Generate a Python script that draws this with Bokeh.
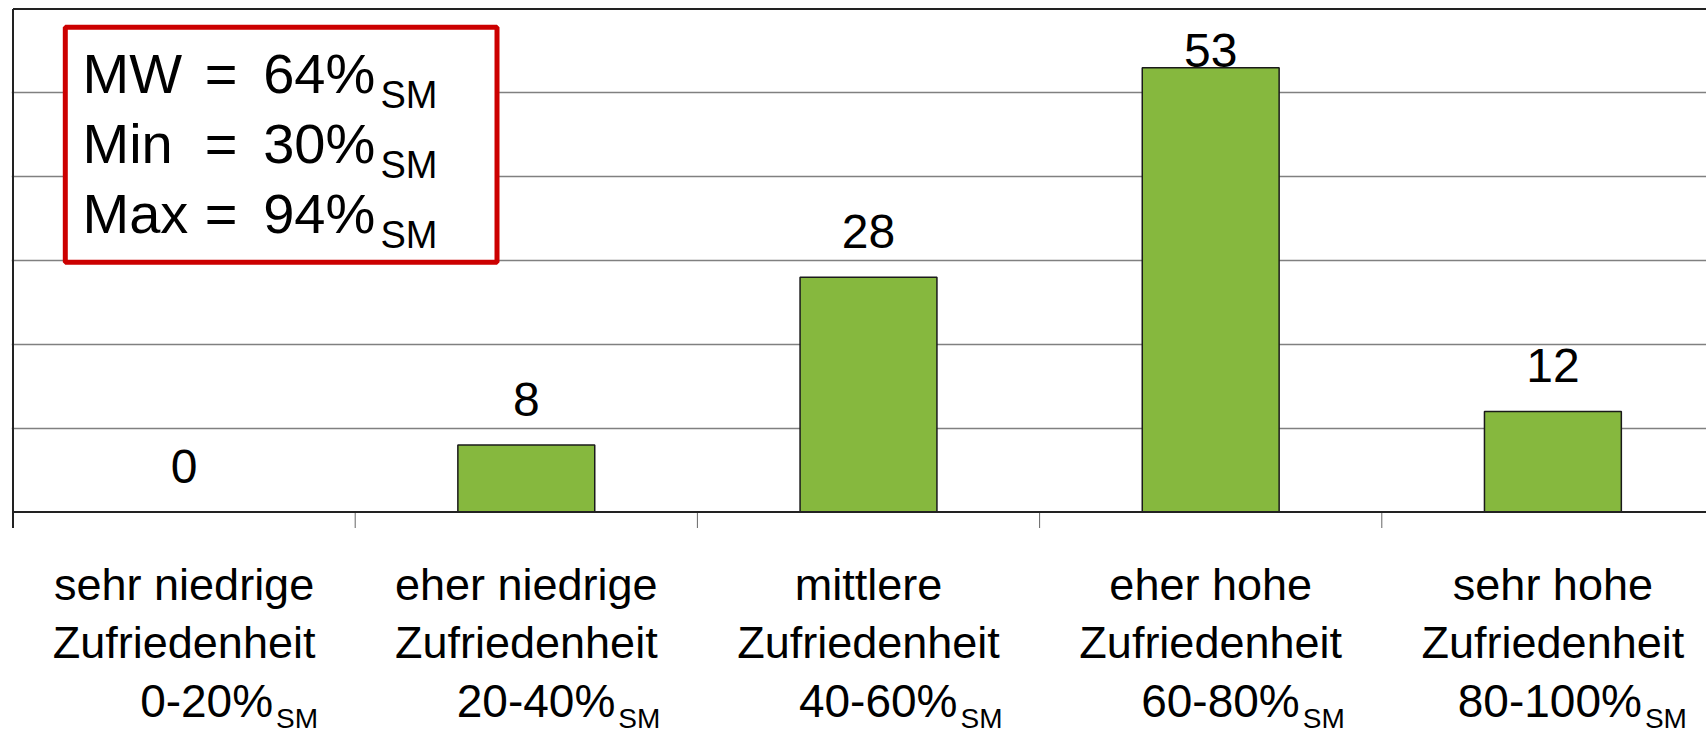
import numpy as np
from bokeh.plotting import figure
from bokeh.models import Grid, FixedTicker, Range1d, ColumnDataSource
from bokeh.core.properties import value
from bokeh.embed import file_html
from bokeh.resources import INLINE

# ---------------- data ----------------
cat_line1 = ["sehr niedrige", "eher niedrige", "mittlere", "eher hohe", "sehr hohe"]
cat_line2 = ["Zufriedenheit", "Zufriedenheit", "Zufriedenheit", "Zufriedenheit", "Zufriedenheit"]
cat_ranges = ["0-20%", "20-40%", "40-60%", "60-80%", "80-100%"]
sub_text = "SM"
counts = [0, 8, 28, 53, 12]
y_ticks = [10, 20, 30, 40, 50]
y_max = 60
stat_names = ["MW", "Min", "Max"]
stat_values = [64, 30, 94]

# ---------------- layout constants ----------------
FONT = value("Liberation Sans")
W, H = 1706, 739
PX_X = 342.2      # px per category
PX_Y = 8.3833     # px per count unit
X0_PX = 12.5      # page x of category axis origin
Y0_PX = 511.5     # page y of value 0
LEFT = 11
x_start = (LEFT - X0_PX) / PX_X
x_end = x_start + (W - LEFT) / PX_X
y_end = Y0_PX / PX_Y
y_start = y_end - H / PX_Y


def ypx(py, fs=0.0):
    """data y for a desired page baseline py (text glyph correction for font size fs)"""
    return (Y0_PX - (py - 0.365 * fs)) / PX_Y


def xpx(px):
    return (px - X0_PX) / PX_X


n = len(counts)
xc = np.arange(n) + 0.5
vals = np.array(counts, dtype=float)

p = figure(width=W, height=H, output_backend="svg", toolbar_location=None,
           x_axis_type=None, y_axis_type=None,
           x_range=Range1d(x_start, x_end), y_range=Range1d(y_start, y_end),
           min_border_left=LEFT, min_border_right=0, min_border_top=0, min_border_bottom=0)
p.outline_line_color = None
p.background_fill_color = "white"
p.border_fill_color = "white"

# grid lines
grid = Grid(dimension=1, ticker=FixedTicker(ticks=y_ticks),
            grid_line_color="#808080", grid_line_width=1.5)
p.add_layout(grid)

# borders, axis line, ticks
tick_len = 16 / PX_Y
p.segment(x0=[0], y0=[y_max], x1=[n], y1=[y_max], line_color="#222222", line_width=2)
p.segment(x0=[0], y0=[y_max], x1=[0], y1=[-tick_len], line_color="#222222", line_width=2)
p.segment(x0=list(range(1, n + 1)), y0=[0] * n, x1=list(range(1, n + 1)), y1=[-tick_len] * n,
          line_color="#666666", line_width=1)

# bars
src = ColumnDataSource(dict(x=xc, top=vals))
p.vbar(x="x", top="top", bottom=0, width=0.40, source=src,
       fill_color="#86B83E", line_color="#1a1a1a", line_width=1.5)

p.segment(x0=[0], y0=[0], x1=[n], y1=[0], line_color="#222222", line_width=2)

# value labels (baseline ~28px above bar top, kept inside the frame)
corr48 = 0.365 * 48 / PX_Y
lab_y = np.minimum(vals + 3.35 + corr48, ypx(67.5, 48))
p.text(x=xc, y=lab_y, text=[str(c) for c in counts], text_font=FONT,
       text_font_size="48px", text_align="center", text_baseline="alphabetic",
       text_color="black")

# category labels
p.text(x=xc, y=[ypx(600.7, 45)] * n, text=cat_line1, text_font=FONT, text_font_size="45px",
       text_align="center", text_baseline="alphabetic", text_color="black")
p.text(x=xc, y=[ypx(658.3, 45)] * n, text=cat_line2, text_font=FONT, text_font_size="45px",
       text_align="center", text_baseline="alphabetic", text_color="black")
right_edge = xc + 134 / PX_X
p.text(x=right_edge - 45 / PX_X, y=[ypx(717, 46)] * n, text=cat_ranges, text_font=FONT,
       text_font_size="46px", text_align="right", text_baseline="alphabetic", text_color="black")
p.text(x=right_edge, y=[ypx(728, 28)] * n, text=[sub_text] * n, text_font=FONT,
       text_font_size="28px", text_align="right", text_baseline="alphabetic", text_color="black")

# statistics box
p.quad(left=[xpx(64.8)], right=[xpx(496.5)], top=[ypx(26.8)], bottom=[ypx(261.8)],
       fill_color="white", line_color="#CC0000", line_width=5)
base_px = [93, 163, 233]
p.text(x=[xpx(82)] * 3, y=[ypx(b, 56) for b in base_px], text=stat_names, text_font=FONT,
       text_font_size="56px", text_align="left", text_baseline="alphabetic", text_color="black")
p.text(x=[xpx(204.3)] * 3, y=[ypx(b, 56) for b in base_px], text=["="] * 3, text_font=FONT,
       text_font_size="56px", text_align="left", text_baseline="alphabetic", text_color="black")
p.text(x=[xpx(262.7)] * 3, y=[ypx(b, 56) for b in base_px], text=[f"{v}%" for v in stat_values],
       text_font=FONT, text_font_size="56px", text_align="left", text_baseline="alphabetic",
       text_color="black")
p.text(x=[xpx(380)] * 3, y=[ypx(b + 15, 38) for b in base_px], text=[sub_text] * 3, text_font=FONT,
       text_font_size="38px", text_align="left", text_baseline="alphabetic", text_color="black")

open("out.html", "w").write(file_html(p, INLINE))
